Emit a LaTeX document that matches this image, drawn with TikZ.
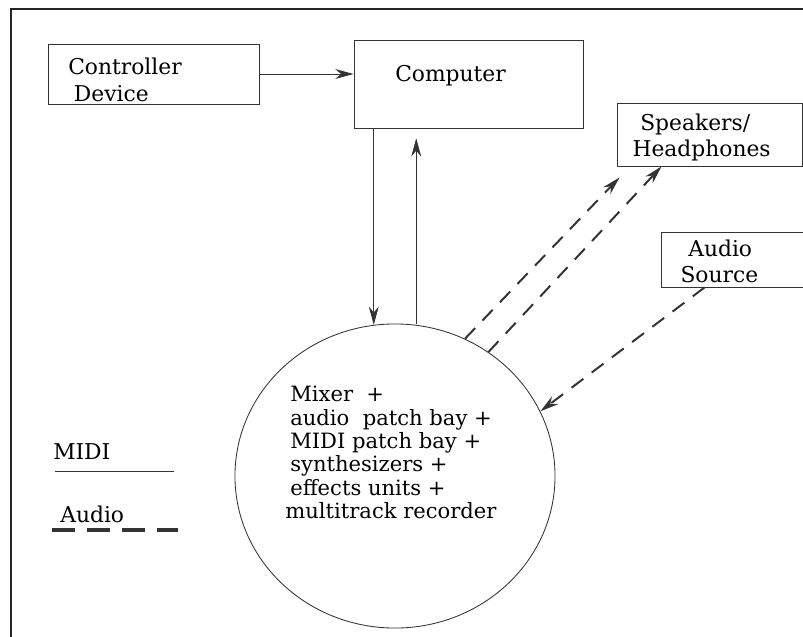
\documentclass[tikz,border=0pt]{standalone}
\usepackage{fontspec}
\setmainfont{DejaVu Serif}
\usetikzlibrary{shapes.geometric,arrows.meta,calc}

\tikzstyle{device} = [rectangle, draw=black!80, line width=0.6pt, inner sep=0pt]
\tikzstyle{boxtext} = [anchor=north west, inner sep=0pt, align=left, font=\fontsize{15.5}{19}\selectfont]
\tikzstyle{midi} = [->, >={Stealth[length=13pt, width=7pt]}, draw=black!80, line width=0.6pt]
\tikzstyle{audio} = [->, >={Stealth[length=13pt, width=7pt]}, draw=black!80, line width=1.4pt, dash pattern=on 10.5pt off 7.5pt]

\begin{document}
\begin{tikzpicture}[x=0.025cm, y=-0.025cm]
		\useasboundingbox (0,0) rectangle (803,637);
		\clip (0,0) rectangle (803,637);
		\draw[black!85, line width=1.8pt] (11,9) rectangle (830,640);
		% Nodes
		\node (ctrl) [device, minimum width=5.275cm, minimum height=1.5cm] at (153.5,74) {};
		\node (comp) [device, minimum width=5.725cm, minimum height=2.2cm] at (468.5,84) {};
		\node (spk) [device, minimum width=4.625cm, minimum height=1.575cm] at (709.5,134.5) {};
		\node (src) [device, minimum width=4.225cm, minimum height=1.375cm] at (745.5,259.5) {};
		\node (studio) [ellipse, draw=black!80, line width=0.6pt, inner sep=0pt, minimum width=8cm, minimum height=7.6cm] at (395,476) {};
		% Texts
		\node (ctrl-txt) [boxtext] at (68,57.5) {Controller\\\hspace*{4pt}Device};
		\node (comp-txt) [boxtext] at (395,65.5) {Computer};
		\node (spk-txt) [boxtext] at (640,113.5) {Speakers/\\[-0.5pt]\hspace*{-5.5pt}Headphones};
		\node (src-txt) [boxtext, font=\fontsize{15.5}{18}\selectfont] at (688,240) {Audio\\\hspace*{-5.5pt}Source};
		\node (studio-txt) [boxtext, font=\fontsize{15}{16.6}\selectfont] at (290,386) {Mixer \ +\\audio \ patch bay +\\MIDI patch bay +\\synthesizers +\\effects units +\\\hspace*{-3.5pt}multitrack recorder};
		\node (midi-key) [boxtext] at (53,443) {MIDI};
		\node (audio-key) [boxtext] at (60,506) {Audio};
		% Arrows
		\draw [midi] (ctrl.east) -- (ctrl.east -| comp.west);
		\draw [midi] (studio.98 |- comp.south) -- (studio.98);
		\draw [midi, shorten >=7pt] (studio.82 |- studio.north) -- (studio.82 |- comp.south);
		\draw [audio] (studio.63) -- ($(spk.south west)+(3,11)$);
		\draw [audio] (studio.53) -- ($(spk.south west)+(45,0)$);
		\draw [audio] ($(src.south west)+(44,0)$) -- (studio.24);
		% Legend
		\draw [black!80, line width=0.6pt] (55,471) -- (174,471);
		\draw [black!80, line width=2.2pt, dash pattern=on 16.4pt off 8.5pt] (52,530) -- (178,530);
	\end{tikzpicture}
\end{document}
